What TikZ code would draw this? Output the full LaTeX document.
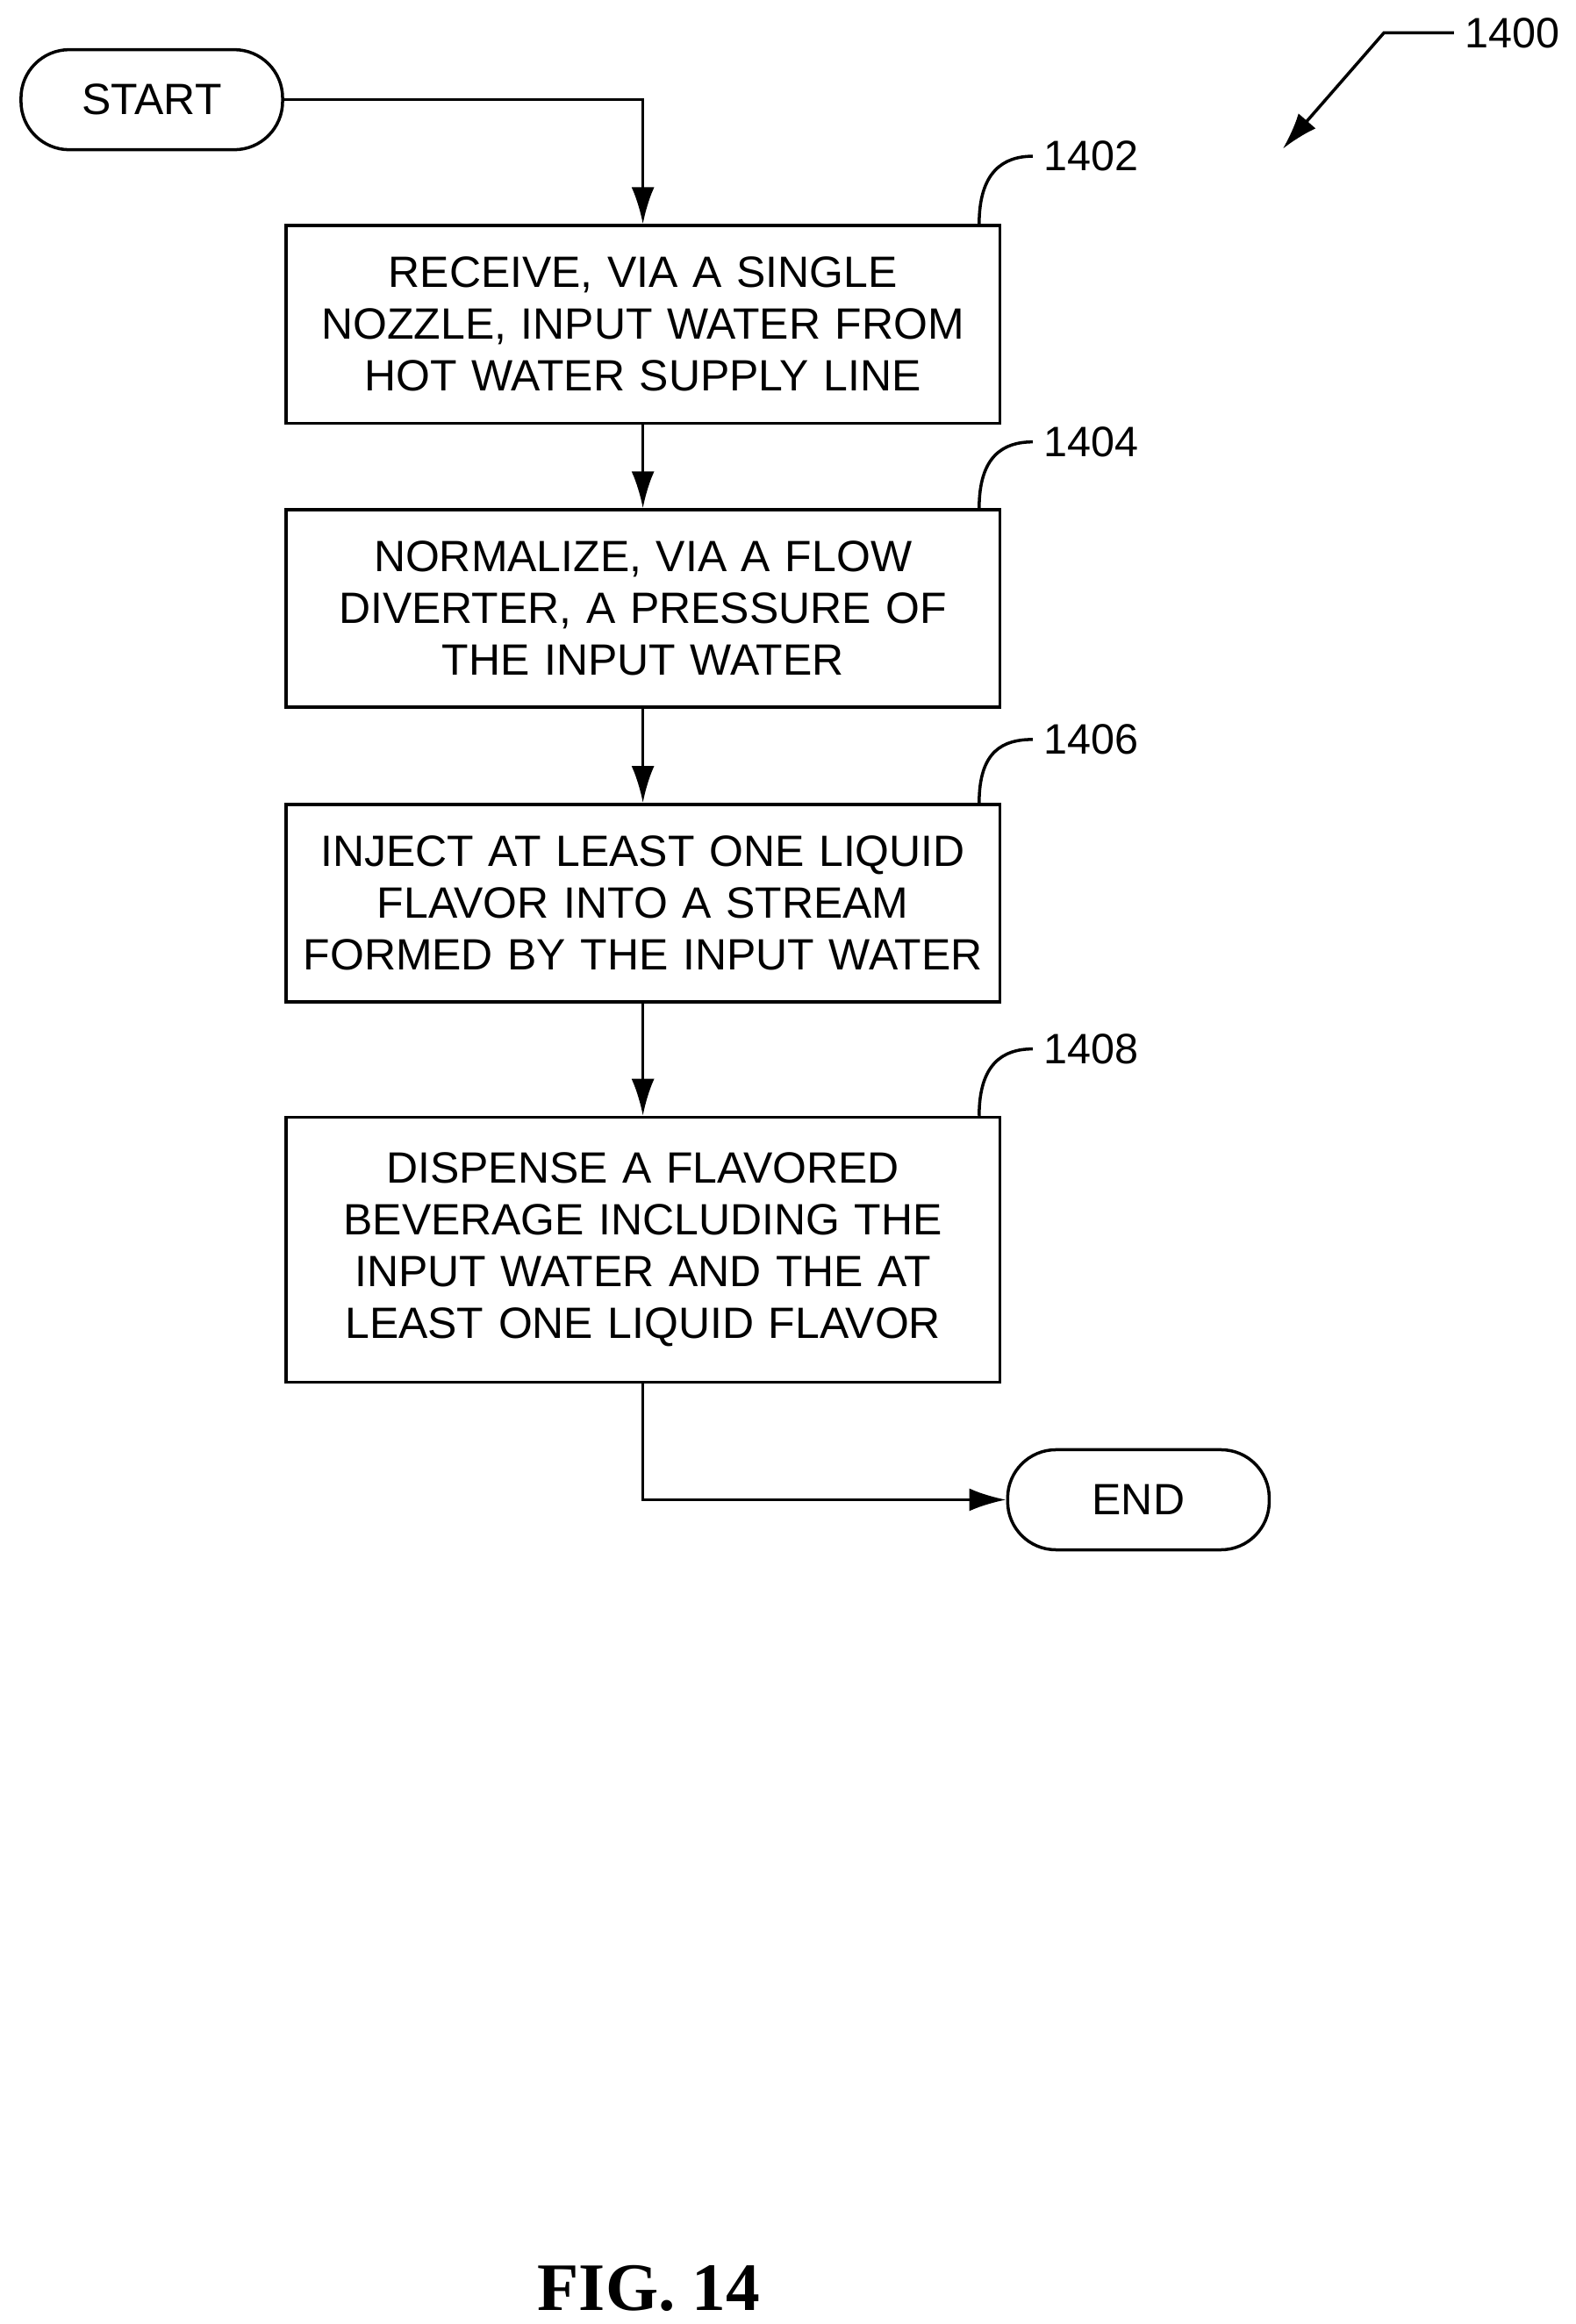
\documentclass[tikz,border=0pt]{standalone}
\usepackage{fontspec}
\setmainfont{Liberation Sans}
\newfontfamily\figfont{Liberation Serif}
\usetikzlibrary{arrows.meta,positioning}
\tikzset{
    stepbox/.style={draw,line width=1pt,rectangle,minimum width=8cm,
        text width=7.9cm,align=center,font=\fontsize{14.2}{16.8}\selectfont},
    term/.style={draw,line width=1pt,rounded corners=0.55cm,minimum width=2.98cm,
        minimum height=1.14cm,font=\fontsize{14.2}{16.8}\selectfont},
    flow/.style={line width=1pt,-{Latex[length=0.42cm,width=0.26cm]}},
    ref/.style={font=\fontsize{13.8}{16.8}\selectfont}
}
\begin{document}
\begin{tikzpicture}[x=0.01695cm,y=-0.01695cm]
        \useasboundingbox (0,0) rectangle (1059,1562);
        %% Terminals
        \node[term] (S) at (102,67) {START};
        \node[term] (E) at (765,1008) {END};
        %% Steps
        \node[stepbox,minimum height=2.25cm] (A) at (432,218)
            {RECEIVE, VIA A SINGLE\\NOZZLE, INPUT WATER FROM\\HOT WATER SUPPLY LINE};
        \node[stepbox,minimum height=2.25cm] (B) at (432,409)
            {NORMALIZE, VIA A FLOW\\DIVERTER, A PRESSURE OF\\THE INPUT WATER};
        \node[stepbox,minimum height=2.25cm] (C) at (432,607)
            {INJECT AT LEAST ONE LIQUID\\FLAVOR INTO A STREAM\\FORMED BY THE INPUT WATER};
        \node[stepbox,minimum height=3.02cm] (D) at (432,840)
            {DISPENSE A FLAVORED\\BEVERAGE INCLUDING THE\\INPUT WATER AND THE AT\\LEAST ONE LIQUID FLAVOR};
        %% Arrows
        \draw[flow] (S.east) -| (A.north);
        \draw[flow] (A) -- (B);
        \draw[flow] (B) -- (C);
        \draw[flow] (C) -- (D);
        \draw[flow] (D.south) |- (E.west);
        %% Reference numerals
        \foreach \n/\b/\y in {1402/A/105,1404/B/297,1406/C/497,1408/D/705}{
            \node[ref,anchor=west] (L\n) at (694,\y) {\n};
            \draw[line width=1pt] (\b.north east) ++(-15,0)
                .. controls ++(0,-35) and ++(-20,0) .. (L\n.west);
        }
        \node[ref,anchor=west] (L1400) at (977,22) {1400};
        \coordinate (T1400) at (862,100);
        \draw[flow] (L1400.west) -- (930,22) -- (T1400);
        %% Caption
        \node[font=\figfont\bfseries\fontsize{22}{26}\selectfont] (F) at (436,1538) {FIG. 14};
    \end{tikzpicture}
\end{document}
